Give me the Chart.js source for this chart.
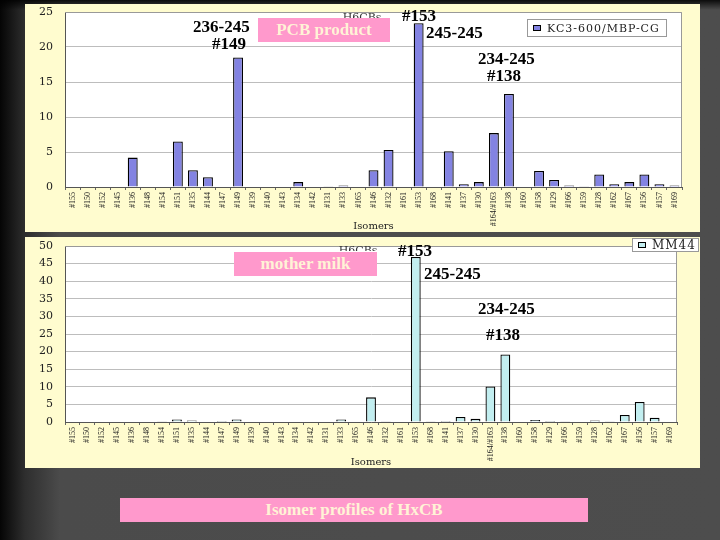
<html>
<head>
<script src="https://cdn.jsdelivr.net/npm/chart.js@4.4.1/dist/chart.umd.min.js"></script>
<style>
  body {
    margin: 0; width: 720px; height: 540px; overflow: hidden; position: relative;
    background:
      linear-gradient(180deg, rgba(0,0,0,0.85) 0px, rgba(0,0,0,0) 10px),
      linear-gradient(90deg, #050505 0px, #2e2e2e 25px, #4b4b4b 60px, #4d4d4d 100%);
    font-family: "Liberation Serif", serif;
  }
  .panel { position: absolute; background: #fffccf; }
  .note { position: absolute; font: bold 17px "Liberation Serif"; line-height: 17px; color: #000; white-space: nowrap; }
  .pink { position: absolute; background: #ff99cc; color: #fff3d6; font: bold 17px "Liberation Serif";
          text-align: center; white-space: nowrap; }
</style>
</head>

<body>
<div class="panel" style="left:25px; top:4px; width:675px; height:228px">
  <canvas id="top-chart" width="675" height="228"></canvas>
</div>
<div class="panel" style="left:25px; top:237px; width:675px; height:231px">
  <canvas id="bottom-chart" width="675" height="231"></canvas>
</div>

<div class="note" style="left:193px; top:18px">236-245</div>
<div class="note" style="left:212px; top:35px">#149</div>
<div class="pink" style="left:258px; top:18px; width:132px; height:24px; line-height:24px">PCB product</div>
<div class="note" style="left:402px; top:7px">#153</div>
<div class="note" style="left:426px; top:24px">245-245</div>
<div class="note" style="left:478px; top:50px">234-245</div>
<div class="note" style="left:487px; top:67px">#138</div>

<div class="pink" style="left:234px; top:252px; width:143px; height:24px; line-height:24px">mother milk</div>
<div class="note" style="left:398px; top:242px">#153</div>
<div class="note" style="left:424px; top:265px">245-245</div>
<div class="note" style="left:478px; top:300px">234-245</div>
<div class="note" style="left:486px; top:326px">#138</div>

<div class="pink" style="left:120px; top:498px; width:468px; height:24px; line-height:24px">Isomer profiles of HxCB</div>

<script>
// isomer order as on the x axis
let isomers = ['#155', '#150', '#152', '#145', '#136', '#148', '#154', '#151', '#135', '#144',
  '#147', '#149', '#139', '#140', '#143', '#134', '#142', '#131', '#133', '#165',
  '#146', '#132', '#161', '#153', '#168', '#141', '#137', '#130', '#164/#163', '#138',
  '#160', '#158', '#129', '#166', '#159', '#128', '#162', '#167', '#156', '#157', '#169']

// PCB product (KC3-600/MBP-CG)
let kc3Values = [0, 0, 0, 0, 4.2, 0, 0, 6.5, 2.4, 1.4,
  0, 18.5, 0, 0, 0, 0.7, 0, 0.1, 0.2, 0,
  2.4, 5.3, 0, 23.4, 0, 5.1, 0.4, 0.7, 7.7, 13.3,
  0, 2.3, 1.0, 0.2, 0.1, 1.8, 0.4, 0.7, 1.8, 0.4, 0.2]

// mother milk (MM44)
let mm44Values = [0, 0, 0, 0, 0, 0, 0.2, 0.7, 0.4, 0,
  0.3, 0.7, 0, 0, 0, 0, 0, 0, 0.7, 0,
  7.0, 0.1, 0, 46.9, 0.1, 0.3, 1.4, 0.9, 10.1, 19.2,
  0, 0.6, 0.3, 0.1, 0, 0.4, 0.1, 2.0, 5.7, 1.2, 0]

let yTicksTop = { max: 25, step: 5 }
let yTicksBottom = { max: 50, step: 5 }

// white plot area, border, boxed legend, half hidden "H6CBs" title
const panelDeco = {
  id: 'panelDeco',
  beforeDraw(chart) {
    let { ctx, chartArea: a } = chart
    ctx.save()
    ctx.fillStyle = '#ffffff'
    ctx.fillRect(a.left, a.top, a.right - a.left, a.bottom - a.top)
    ctx.restore()
  },
  afterDraw(chart, args, o) {
    let { ctx, chartArea: a } = chart
    ctx.save()
    ctx.strokeStyle = '#999'
    ctx.lineWidth = 1
    ctx.beginPath()
    ctx.moveTo(a.left, a.top + 0.5)
    ctx.lineTo(a.right - 0.5, a.top + 0.5)
    ctx.lineTo(a.right - 0.5, a.bottom)
    ctx.stroke()

    // title, only its top shows
    ctx.beginPath()
    ctx.rect(o.titleX - 30, o.titleClipTop, 60, 5)
    ctx.clip()
    ctx.fillStyle = '#333'
    ctx.font = '11px "DejaVu Serif"'
    ctx.textAlign = 'center'
    ctx.textBaseline = 'top'
    ctx.fillText('H6CBs', o.titleX, o.titleClipTop)
    ctx.restore()

    // legend box
    let ds = chart.data.datasets[0]
    let L = o.legend
    ctx.save()
    ctx.fillStyle = '#ffffff'
    ctx.fillRect(L.x, L.y, L.w, L.h)
    ctx.strokeStyle = '#999'
    ctx.strokeRect(L.x + 0.5, L.y + 0.5, L.w - 1, L.h - 1)
    let my = L.y + L.h / 2
    ctx.fillStyle = ds.backgroundColor
    ctx.fillRect(L.x + 6, my - 3, 8, 6)
    ctx.strokeStyle = '#000'
    ctx.lineWidth = 1
    ctx.strokeRect(L.x + 6.5, my - 2.5, 7, 5)
    ctx.fillStyle = '#222'
    ctx.font = L.font
    ctx.letterSpacing = '1px'
    ctx.textBaseline = 'middle'
    ctx.fillText(ds.label, L.x + 20, my + 1)
    ctx.restore()
  }
}

function makeChart(elId, label, values, color, yt, pad, xHeight, deco) {
  const ctx = document.getElementById(elId).getContext('2d')
  return new Chart(ctx, {
    type: 'bar',
    data: {
      labels: isomers,
      datasets: [{
        label,
        data: values,
        backgroundColor: color,
        borderColor: '#000',
        borderWidth: 1.3,
        barPercentage: 0.66,
        categoryPercentage: 1,
      }],
    },
    options: {
      responsive: false,
      animation: false,
      layout: { padding: pad },
      plugins: {
        legend: { display: false },
        tooltip: { enabled: false },
        panelDeco: deco,
      },
      scales: {
        x: {
          afterFit: s => { s.height = xHeight },
          grid: { display: true, drawOnChartArea: false, drawTicks: true, tickLength: 3, color: '#666', offset: true },
          border: { color: '#555', width: 1 },
          ticks: {
            autoSkip: false, maxRotation: 90, minRotation: 90, padding: 2,
            color: '#222', font: { family: 'Liberation Serif', size: 8 },
          },
          title: {
            display: true, text: 'Isomers', color: '#222',
            font: { family: 'DejaVu Serif', size: 10 }, padding: { top: 0, bottom: 0 },
          },
        },
        y: {
          min: 0, max: yt.max,
          // fixed axis width, and no extra room reserved above the top label
          afterFit: s => { s.width = 40; s.paddingTop = 0; s.paddingBottom = 0 },
          grid: { color: '#bdbdbd', drawTicks: false },
          border: { color: '#555', width: 1 },
          ticks: {
            stepSize: yt.step, padding: 12, color: '#222',
            font: { family: 'DejaVu Serif', size: 11 },
          },
        },
      },
    },
    plugins: [panelDeco],
  })
}

window.onload = function () {
  makeChart('top-chart', 'KC3-600/MBP-CG', kc3Values, '#8383e2', yTicksTop,
    { top: 8, right: 18, left: 0, bottom: 0 }, 45,
    { titleX: 337, titleClipTop: 9, legend: { x: 502, y: 15, w: 140, h: 18, font: '11px "DejaVu Serif"' } })
  makeChart('bottom-chart', 'MM44', mm44Values, '#c2eef0', yTicksBottom,
    { top: 9, right: 23, left: 0, bottom: 0 }, 46,
    { titleX: 333, titleClipTop: 9, legend: { x: 607, y: 1, w: 67, h: 14, font: '12px "DejaVu Serif"' } })
}
</script>
</body>
</html>
